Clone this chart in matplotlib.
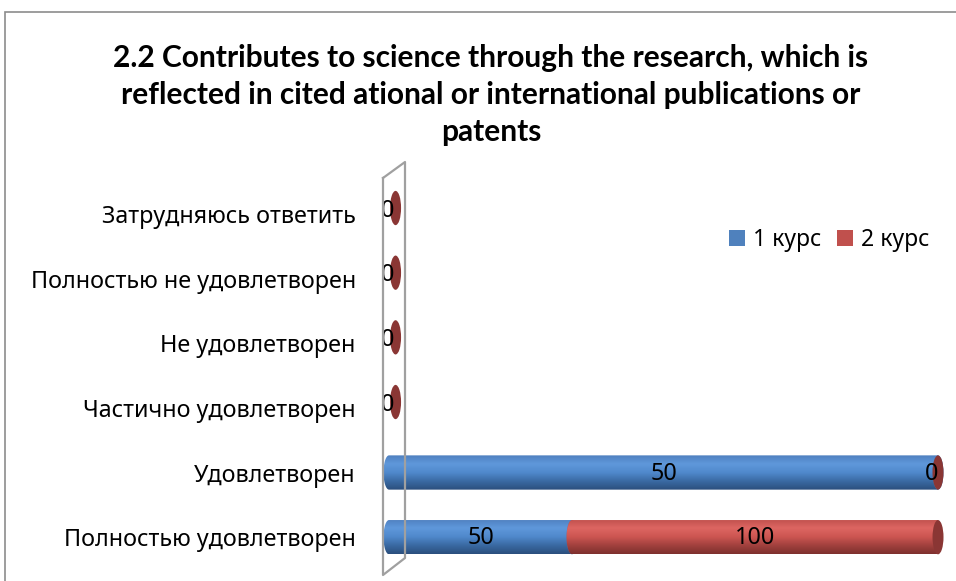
import matplotlib
matplotlib.use("Agg")
import matplotlib.pyplot as plt
import numpy as np
from matplotlib.patches import Ellipse, Rectangle, Patch, PathPatch
from matplotlib.path import Path
from matplotlib.lines import Line2D
from matplotlib.colors import to_rgb

# data (bottom row first)
categories = ["Полностью удовлетворен", "Удовлетворен", "Частично удовлетворен",
              "Не удовлетворен", "Полностью не удовлетворен", "Затрудняюсь ответить"]
kurs1 = [50, 50, 0, 0, 0, 0]
kurs2 = [100, 0, 0, 0, 0, 0]
series_names = ["1 курс", "2 курс"]
title = ("2.2 Contributes to science through the research, which is\n"
         "reflected in cited ational or international publications or\n"
         "patents")

W, H = 956, 581
LAB_FONT = ["Noto Sans", "DejaVu Sans"]
FS = 16.8

# gradient profiles (top -> bottom) for the cylinder look
blue_stops = ["#4f80c0", "#5f98db", "#5089cc", "#3a6aa3", "#2b4f7d"]
red_stops = ["#c0504d", "#dd6662", "#cd5652", "#a2413e", "#7e302e"]
blue_cap = "#4a7cba"
red_cap = "#8a3634"


def grad_img(stops, n=64):
    cols = np.array([to_rgb(c) for c in stops])
    pos = np.linspace(0, 1, len(stops))
    t = np.linspace(0, 1, n)
    img = np.stack([np.interp(t, pos, cols[:, k]) for k in range(3)], axis=1)
    return img[:, None, :]


def px2fig(x, y):
    return x / W, 1 - y / H


fig = plt.figure(figsize=(W / 100, H / 100), dpi=100)

# outer chart border
fig.add_artist(Rectangle(px2fig(5, 1000), 2000 / W, (1000 - 12) / H,
                         transform=fig.transFigure, fill=False,
                         edgecolor="#8c8c8c", lw=1.2))

# 3d side wall
wall = [(383, 178), (405, 162), (405, 558), (383, 575), (383, 178)]
wx, wy = zip(*[px2fig(*p) for p in wall])
fig.add_artist(Line2D(wx, wy, transform=fig.transFigure, color="#a0a0a0", lw=1.6))

ax = fig.add_axes([378 / W, 1 - 569.5 / H, 571 / W, 388 / H])
ax.set_xlim(-0.02, 1.02)
ax.set_ylim(-0.5, 5.5)

bar_h = 0.53
cap_w = 0.02
y = np.arange(len(categories))
tot = np.array(kurs1) + np.array(kurs2)
safe = np.where(tot > 0, tot, 1)
frac1 = np.array(kurs1) / safe
frac2 = np.array(kurs2) / safe


def cylinder(x0, x1, yc, stops, cap):
    y0, y1 = yc - bar_h / 2, yc + bar_h / 2
    # body outline: rectangle with rounded left end
    th = np.linspace(np.pi / 2, 3 * np.pi / 2, 30)
    left = [(x0 + cap_w / 2 * np.cos(a), yc + bar_h / 2 * np.sin(a)) for a in th]
    verts = left + [(x1, y0), (x1, y1), left[0]]
    pp = PathPatch(Path(verts), facecolor="none", edgecolor="none",
                   transform=ax.transData)
    ax.add_patch(pp)
    im = ax.imshow(grad_img(stops), extent=[x0 - cap_w, x1, y0, y1],
                   aspect="auto", origin="upper", zorder=2)
    im.set_clip_path(pp)
    ax.add_patch(Ellipse((x1, yc), cap_w, bar_h, facecolor=cap,
                         edgecolor="none", zorder=2, clip_on=False))


for i in range(len(categories)):
    if tot[i] > 0:
        b1 = frac1[i]
        cylinder(0, b1, y[i], blue_stops, blue_cap)
        if frac2[i] > 0:
            cylinder(b1, b1 + frac2[i], y[i], red_stops, red_cap)
        else:
            ax.add_patch(Ellipse((b1, y[i]), cap_w, bar_h, facecolor=red_cap,
                                 edgecolor="none", zorder=4, clip_on=False))
        # value labels
        ax.text(b1 / 2, y[i] - 0.02, str(kurs1[i]), ha="center", va="center",
                fontsize=FS, family=LAB_FONT, zorder=5)
        ax.text(b1 + frac2[i] / 2 - (0.012 if frac2[i] == 0 else 0), y[i] - 0.02,
                str(kurs2[i]), ha="center", va="center",
                fontsize=FS, family=LAB_FONT, zorder=5)
    else:
        ax.add_patch(Ellipse((0.012, y[i] + 0.09), cap_w, bar_h, facecolor=red_cap,
                             edgecolor="none", zorder=4, clip_on=False))
        ax.text(-0.002, y[i] + 0.05, "0", ha="center", va="center",
                fontsize=FS, family=LAB_FONT, zorder=5)

ax.set_yticks(y)
ax.set_yticklabels(categories, family=LAB_FONT, fontsize=FS)
ax.tick_params(axis="y", length=0, pad=16)
ax.set_xticks([])
for s in ax.spines.values():
    s.set_visible(False)
ax.patch.set_alpha(0)

fig.text(491 / W, 1 - 95 / H, title, ha="center", va="center",
         fontsize=21.5, fontweight="bold", family=["Lato", "DejaVu Sans"],
         linespacing=1.38)

handles = [Patch(facecolor="#4f81bd"), Patch(facecolor="#c0504d")]
fig.legend(handles, series_names, loc="center left",
           bbox_to_anchor=(708 / W, 1 - 240 / H), ncol=2, frameon=False,
           prop={"family": LAB_FONT, "size": 16.5}, handlelength=0.7,
           handleheight=0.7, handletextpad=0.35, columnspacing=0.7)

fig.savefig("out.png", dpi=100)
